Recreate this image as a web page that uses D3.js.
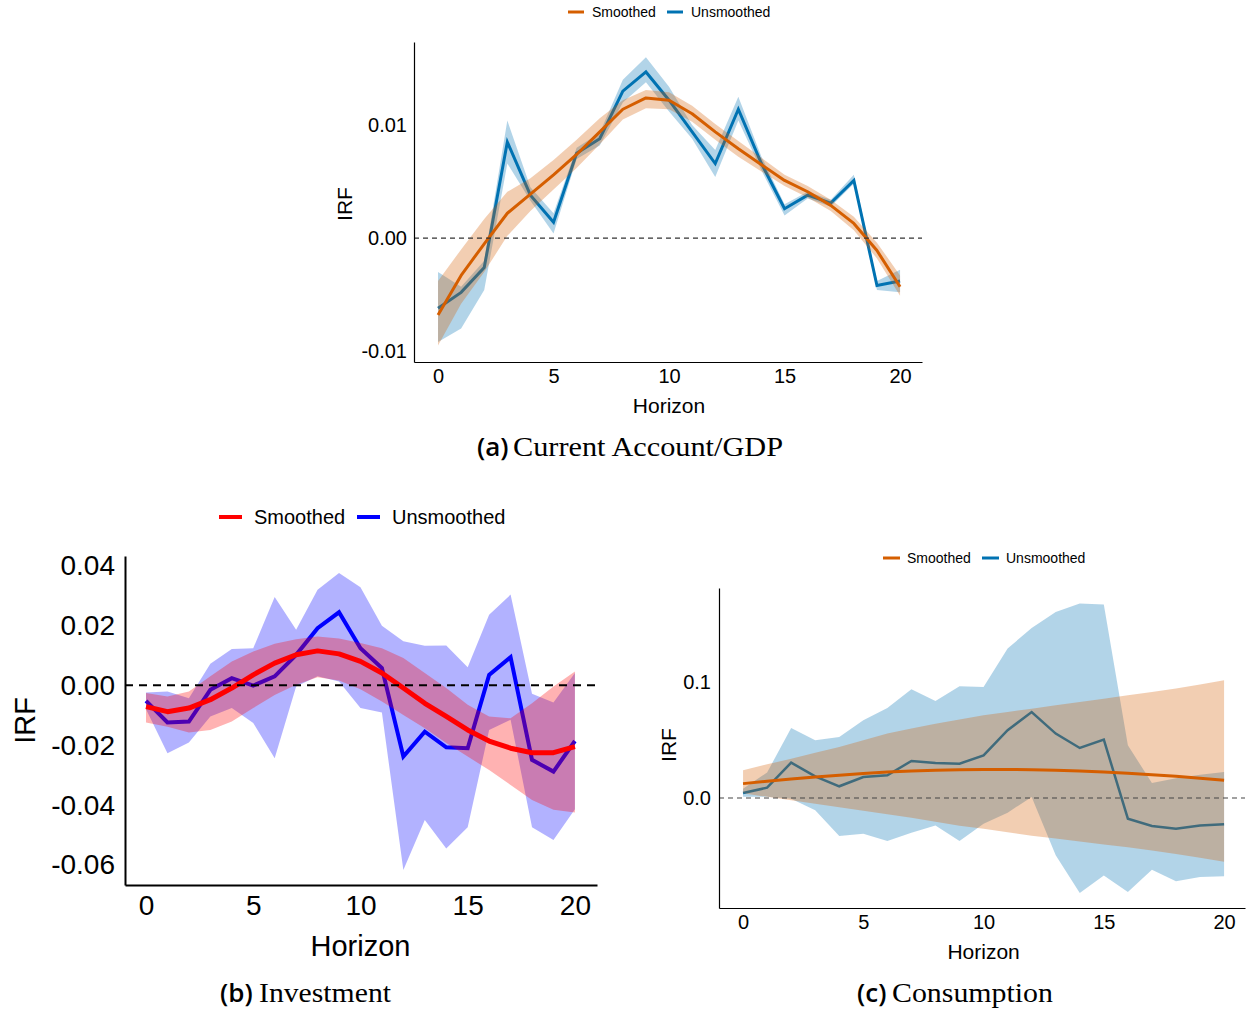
<!DOCTYPE html>
<html>
<head>
<meta charset="utf-8">
<script src="https://cdn.jsdelivr.net/npm/d3@7"></script>
<style>
  html, body { margin: 0; padding: 0; background: #fff; }
  svg { display: block; }
</style>
</head>
<body>
<svg id="chart" width="1249" height="1010"></svg>
<script>
// ---------- DATA ----------
const horizon = [0,1,2,3,4,5,6,7,8,9,10,11,12,13,14,15,16,17,18,19,20];

// (a) Current Account / GDP
const caSmoothed   = [-0.0068,-0.0033,-0.0005,0.0022,0.0039,0.0056,0.0074,0.0094,0.0114,0.0124,0.0122,0.0110,0.0094,0.0079,0.0065,0.0051,0.0041,0.0029,0.0013,-0.0011,-0.0043];
const caSmoothedHi = [-0.0038,-0.0010,0.0017,0.0041,0.0053,0.0069,0.0087,0.0106,0.0122,0.0131,0.0129,0.0117,0.0101,0.0086,0.0071,0.0056,0.0046,0.0034,0.0019,-0.0004,-0.0033];
const caSmoothedLo = [-0.0095,-0.0058,-0.0030,0.0002,0.0024,0.0043,0.0062,0.0083,0.0105,0.0115,0.0114,0.0103,0.0087,0.0072,0.0059,0.0046,0.0036,0.0024,0.0007,-0.0018,-0.0051];
const caUnsmoothed   = [-0.0062,-0.0048,-0.0026,0.0085,0.0038,0.0014,0.0075,0.0088,0.0130,0.0147,0.0122,0.0094,0.0066,0.0114,0.0066,0.0026,0.0038,0.0031,0.0051,-0.0042,-0.0038];
const caUnsmoothedHi = [-0.0030,-0.0043,-0.0020,0.0104,0.0045,0.0022,0.0080,0.0093,0.0140,0.0160,0.0134,0.0100,0.0078,0.0125,0.0072,0.0030,0.0041,0.0034,0.0056,-0.0038,-0.0028];
const caUnsmoothedLo = [-0.0092,-0.0080,-0.0046,0.0066,0.0033,0.0004,0.0070,0.0082,0.0120,0.0138,0.0112,0.0088,0.0054,0.0104,0.0060,0.0020,0.0035,0.0028,0.0048,-0.0046,-0.0048];
const caYTicks = [-0.01, 0, 0.01];
const caYTickLabels = ["-0.01", "0.00", "0.01"];

// (b) Investment
const invSmoothed   = [-0.0071,-0.0088,-0.0076,-0.0048,-0.0009,0.0035,0.0074,0.0102,0.0115,0.0105,0.0080,0.0041,-0.0009,-0.0060,-0.0104,-0.0149,-0.0186,-0.0210,-0.0225,-0.0225,-0.0205];
const invSmoothedHi = [-0.0026,-0.0037,-0.0021,0.0030,0.0080,0.0113,0.0139,0.0154,0.0163,0.0156,0.0141,0.0124,0.0091,0.0041,-0.0009,-0.0065,-0.0104,-0.0110,-0.0060,-0.0004,0.0046];
const invSmoothedLo = [-0.0124,-0.0138,-0.0158,-0.0149,-0.0121,-0.0076,-0.0032,0.0002,0.0027,0.0016,-0.0013,-0.0054,-0.0099,-0.0143,-0.0193,-0.0238,-0.0283,-0.0333,-0.0383,-0.0416,-0.0425];
const invUnsmoothed   = [-0.0052,-0.0124,-0.0121,-0.0015,0.0024,-0.0001,0.0030,0.0102,0.0191,0.0244,0.0124,0.0058,-0.0238,-0.0155,-0.0207,-0.0210,0.0035,0.0094,-0.0249,-0.0288,-0.0186];
const invUnsmoothedHi = [-0.0024,-0.0021,-0.0043,0.0072,0.0121,0.0124,0.0295,0.0186,0.0319,0.0375,0.0328,0.0199,0.0147,0.0132,0.0133,0.0060,0.0236,0.0303,-0.0028,-0.0057,0.0041];
const invUnsmoothedLo = [-0.0080,-0.0227,-0.0191,-0.0104,-0.0076,-0.0126,-0.0244,-0.0004,0.0030,0.0013,-0.0076,-0.0091,-0.0617,-0.0450,-0.0545,-0.0474,-0.0149,-0.0115,-0.0474,-0.0517,-0.0414];
const invYTicks = [-0.06, -0.04, -0.02, 0, 0.02, 0.04];
const invYTickLabels = ["-0.06", "-0.04", "-0.02", "0.00", "0.02", "0.04"];

// (c) Consumption
const conSmoothed   = [0.0124,0.0145,0.0164,0.0181,0.0197,0.0212,0.0224,0.0233,0.0240,0.0244,0.0246,0.0246,0.0244,0.0240,0.0233,0.0224,0.0213,0.0200,0.0187,0.0171,0.0154];
const conSmoothedHi = [0.0239,0.0290,0.0339,0.0390,0.0440,0.0498,0.0555,0.0598,0.0641,0.0677,0.0713,0.0742,0.0770,0.0799,0.0828,0.0856,0.0885,0.0914,0.0943,0.0979,0.1015];
const conSmoothedLo = [0.0040,0.0010,-0.0020,-0.0050,-0.0080,-0.0110,-0.0140,-0.0170,-0.0205,-0.0240,-0.0265,-0.0295,-0.0325,-0.0350,-0.0375,-0.0400,-0.0425,-0.0452,-0.0482,-0.0515,-0.0550];
const conUnsmoothed   = [0.0043,0.0089,0.0305,0.0187,0.0101,0.0181,0.0196,0.0319,0.0302,0.0296,0.0368,0.0584,0.0741,0.0555,0.0431,0.0503,-0.0178,-0.0241,-0.0264,-0.0236,-0.0227];
const conUnsmoothedHi = [0.0080,0.0220,0.0603,0.0497,0.0526,0.0670,0.0776,0.0937,0.0836,0.0963,0.0957,0.1288,0.1466,0.1603,0.1676,0.1667,0.0454,0.0130,0.0170,0.0200,0.0224];
const conUnsmoothedLo = [0.0010,0.0010,-0.0006,-0.0106,-0.0327,-0.0307,-0.0371,-0.0299,-0.0236,-0.0371,-0.0221,-0.0126,0.0009,-0.0494,-0.0819,-0.0667,-0.0810,-0.0618,-0.0718,-0.0681,-0.0675];
const conYTicks = [0, 0.1];
const conYTickLabels = ["0.0", "0.1"];

const xTicks = [0, 5, 10, 15, 20];
const legendLabels = ["Smoothed", "Unsmoothed"];

// ---------- DRAW ----------
const svg = d3.select("#chart");
const SANS = "'Liberation Sans', Arial, Helvetica, sans-serif";
const SERIF = "'Liberation Serif', 'DejaVu Serif', serif";

function panel(cfg) {
  const g = svg.append("g");
  const x = d3.scaleLinear().domain(cfg.xDomain).range([cfg.left, cfg.right]);
  const y = d3.scaleLinear().domain(cfg.yDomain).range([cfg.bottom, cfg.top]);

  const rows = horizon.map((h, i) => ({
    h,
    s: cfg.sm[i], sHi: cfg.smHi[i], sLo: cfg.smLo[i],
    u: cfg.un[i], uHi: cfg.unHi[i], uLo: cfg.unLo[i]
  }));

  const areaU = d3.area().x(d => x(d.h)).y0(d => y(d.uLo)).y1(d => y(d.uHi));
  const areaS = d3.area().x(d => x(d.h)).y0(d => y(d.sLo)).y1(d => y(d.sHi));
  const lineU = d3.line().x(d => x(d.h)).y(d => y(d.u));
  const lineS = d3.line().x(d => x(d.h)).y(d => y(d.s));

  // unsmoothed band + line, then smoothed band + line
  g.append("path").datum(rows).attr("d", areaU)
    .attr("fill", cfg.unColor).attr("fill-opacity", 0.3);
  g.append("path").datum(rows).attr("d", lineU)
    .attr("fill", "none").attr("stroke", cfg.unColor)
    .attr("stroke-width", cfg.unWidth).attr("stroke-linejoin", "miter");
  g.append("path").datum(rows).attr("d", areaS)
    .attr("fill", cfg.smColor).attr("fill-opacity", 0.3);
  g.append("path").datum(rows).attr("d", lineS)
    .attr("fill", "none").attr("stroke", cfg.smColor)
    .attr("stroke-width", cfg.smWidth).attr("stroke-linejoin", "round");

  // zero line
  g.append("line")
    .attr("x1", cfg.left).attr("x2", cfg.right)
    .attr("y1", y(0)).attr("y2", y(0))
    .attr("stroke", cfg.zeroColor).attr("stroke-width", cfg.zeroWidth)
    .attr("stroke-dasharray", cfg.zeroDash);

  // axes
  const yAxis = d3.axisLeft(y).tickValues(cfg.yTicks)
    .tickFormat((d, i) => cfg.yTickLabels[i])
    .tickSize(0).tickSizeOuter(0).tickPadding(cfg.yPad);
  const xAxis = d3.axisBottom(x).tickValues(xTicks)
    .tickFormat(d => String(d))
    .tickSize(0).tickSizeOuter(0).tickPadding(cfg.xPad);

  const ya = g.append("g").attr("transform", `translate(${cfg.left},0)`).call(yAxis);
  const xa = g.append("g").attr("transform", `translate(0,${cfg.bottom})`).call(xAxis);
  [ya, xa].forEach(a => {
    a.select(".domain").attr("stroke", "#000").attr("stroke-width", cfg.axisWidth);
    a.selectAll("text").attr("font-family", SANS).attr("font-size", cfg.tickFont).attr("fill", "#000");
  });

  // axis titles
  g.append("text")
    .attr("transform", `translate(${cfg.irfX},${(cfg.top + cfg.bottom) / 2 + cfg.irfDy}) rotate(-90)`)
    .attr("text-anchor", "middle").attr("dominant-baseline", "central")
    .attr("font-family", SANS).attr("font-size", cfg.titleFont).text("IRF");
  g.append("text")
    .attr("x", x(10)).attr("y", cfg.horizonY)
    .attr("text-anchor", "middle").attr("dominant-baseline", "central")
    .attr("font-family", SANS).attr("font-size", cfg.titleFont).text("Horizon");

  // legend
  const L = cfg.legend;
  const colors = [cfg.smColor, cfg.unColor];
  legendLabels.forEach((lab, i) => {
    g.append("line")
      .attr("x1", L.sw[i]).attr("x2", L.sw[i] + L.swLen)
      .attr("y1", L.y).attr("y2", L.y)
      .attr("stroke", colors[i]).attr("stroke-width", L.swWidth);
    g.append("text")
      .attr("x", L.tx[i]).attr("y", L.y)
      .attr("dominant-baseline", "central")
      .attr("font-family", SANS).attr("font-size", L.font).text(lab);
  });

  // caption
  const C = cfg.caption;
  g.append("text").attr("x", C.x0).attr("y", C.y)
    .attr("font-family", "'Open Sans', 'Noto Sans', sans-serif").attr("font-size", C.font)
    .attr("font-weight", 600)
    .text(C.tag);
  g.append("text").attr("x", C.x1).attr("y", C.y)
    .attr("font-family", SERIF).attr("font-size", C.font + 2)
    .attr("textLength", C.len).attr("lengthAdjust", "spacingAndGlyphs")
    .text(C.label);
}

panel({
  left: 414, right: 922, top: 42, bottom: 362,
  xDomain: [-1.04, 20.95], yDomain: [-0.01096, 0.01735],
  sm: caSmoothed, smHi: caSmoothedHi, smLo: caSmoothedLo,
  un: caUnsmoothed, unHi: caUnsmoothedHi, unLo: caUnsmoothedLo,
  smColor: "#D55E00", unColor: "#0072B2", smWidth: 3, unWidth: 3,
  zeroColor: "#333", zeroWidth: 1.2, zeroDash: "5,4", axisWidth: 1.2,
  yTicks: caYTicks, yTickLabels: caYTickLabels, yPad: 7, xPad: 7,
  tickFont: 20, titleFont: 21, irfX: 344, irfDy: 2, horizonY: 405,
  legend: { y: 12, sw: [568, 667], tx: [592, 691], swLen: 16, swWidth: 3, font: 14 },
  caption: { x0: 477, x1: 513, y: 456, font: 26, tag: "(a)", label: "Current Account/GDP", len: 270 }
});

panel({
  left: 125, right: 597, top: 556, bottom: 885,
  xDomain: [-0.98, 21.03], yDomain: [-0.0667, 0.0432],
  sm: invSmoothed, smHi: invSmoothedHi, smLo: invSmoothedLo,
  un: invUnsmoothed, unHi: invUnsmoothedHi, unLo: invUnsmoothedLo,
  smColor: "#FF0000", unColor: "#0000FF", smWidth: 5, unWidth: 4,
  zeroColor: "#000", zeroWidth: 2, zeroDash: "8,6", axisWidth: 2,
  yTicks: invYTicks, yTickLabels: invYTickLabels, yPad: 10, xPad: 10,
  tickFont: 28, titleFont: 29, irfX: 25, irfDy: 0, horizonY: 946,
  legend: { y: 517, sw: [219, 357], tx: [254, 392], swLen: 23, swWidth: 4, font: 20 },
  caption: { x0: 220, x1: 259, y: 1002, font: 26, tag: "(b)", label: "Investment", len: 132 }
});

panel({
  left: 719, right: 1245, top: 588, bottom: 908,
  xDomain: [-1.0, 20.87], yDomain: [-0.0948, 0.181],
  sm: conSmoothed, smHi: conSmoothedHi, smLo: conSmoothedLo,
  un: conUnsmoothed, unHi: conUnsmoothedHi, unLo: conUnsmoothedLo,
  smColor: "#D55E00", unColor: "#0072B2", smWidth: 3, unWidth: 2.5,
  zeroColor: "#444", zeroWidth: 1.2, zeroDash: "5,4", axisWidth: 1.2,
  yTicks: conYTicks, yTickLabels: conYTickLabels, yPad: 8, xPad: 7,
  tickFont: 20, titleFont: 21, irfX: 668, irfDy: -3, horizonY: 951,
  legend: { y: 558, sw: [883, 982], tx: [907, 1006], swLen: 17, swWidth: 3, font: 14 },
  caption: { x0: 857, x1: 892, y: 1002, font: 26, tag: "(c)", label: "Consumption", len: 161 }
});
</script>
</body>
</html>
